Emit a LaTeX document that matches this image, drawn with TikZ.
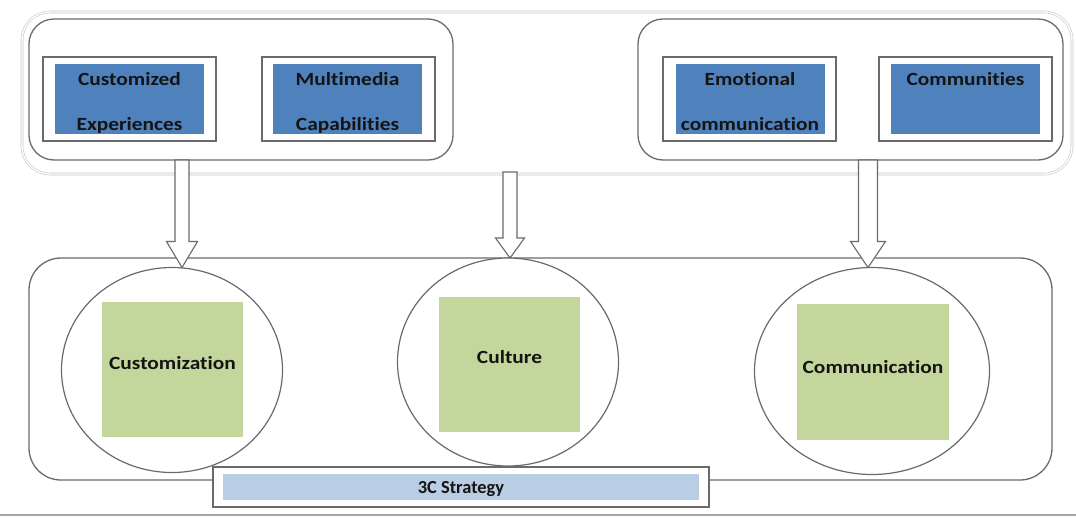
\documentclass[tikz,border=0pt]{standalone}
\usepackage{fontspec}
\setmainfont{Carlito}[RawFeature=-liga]
\newfontfamily\lblfont{Carlito}[FakeStretch=1.15, RawFeature=-liga]
\usetikzlibrary{shapes.geometric,calc}
\definecolor{boxblue}{HTML}{4F81BD}
\definecolor{lightblue}{HTML}{B9CDE5}
\definecolor{sqgreen}{HTML}{C3D69B}
\definecolor{linegray}{HTML}{6A6A6A}
\definecolor{txtcol}{HTML}{141414}
\newcommand\blockarr[5]{%
  \draw[blockarrow] let \p1=(#1), \p2=(#2) in
    (\x2-#3pt,\y1) -- (\x2-#3pt,\y2+#5pt) -- (\x2-#4pt,\y2+#5pt) -- (\x2,\y2)
    -- (\x2+#4pt,\y2+#5pt) -- (\x2+#3pt,\y2+#5pt) -- (\x2+#3pt,\y1) -- cycle;}
\begin{document}
\begin{tikzpicture}[x=1pt,y=-1pt,
  outerbox/.style={draw=gray!45, double=white, double distance=1.4pt, line width=0.6pt,
    rounded corners=28pt, inner sep=0pt, outer sep=0pt},
  groupbox/.style={draw=linegray, line width=1.3pt, fill=white, rounded corners=25pt,
    inner sep=0pt, outer sep=0pt},
  framebox/.style={draw=linegray, line width=1.2pt, fill=white, inner sep=0pt, outer sep=0pt,
    minimum width=173pt, minimum height=84pt},
  bluebox/.style={fill=boxblue, inner sep=0pt, outer sep=0pt, minimum width=149pt, minimum height=70pt},
  toptext/.style={font=\lblfont\bfseries\fontsize{18.6pt}{22pt}\selectfont, text=txtcol,
    anchor=base, inner sep=0pt},
  bottomrect/.style={draw=linegray, line width=1.3pt, fill=white, rounded corners=32pt,
    inner sep=0pt, outer sep=0pt},
  circ/.style={ellipse, draw=linegray, line width=1.2pt, fill=white, inner sep=0pt, outer sep=0pt},
  greensq/.style={fill=sqgreen, inner sep=0pt, outer sep=0pt},
  blockarrow/.style={draw=linegray, line width=1.1pt, fill=white, line join=miter}
]
\useasboundingbox (0,0) rectangle (1076,517);
\fill[white] (0,0) rectangle (1076,517);

% top background and group boxes
\node[outerbox, minimum width=1050pt, minimum height=162pt] (outer) at (547,93) {};
\node[groupbox, minimum width=424pt, minimum height=141pt] (lbox) at (241,89.5) {};
\node[groupbox, minimum width=425pt, minimum height=141pt] (rbox) at (850.5,89.5) {};

% item frames
\node[framebox] (ceF) at (129.5,99) {};
\node[bluebox] (ce) at (129.5,99) {};
\node[toptext] (ce1) at (129.5,85) {Customized};
\node[toptext] (ce2) at (129.5,130) {Experiences};

\node[framebox] (mcF) at (348.5,99) {};
\node[bluebox] (mc) at (347.5,99) {};
\node[toptext] (mc1) at (347.5,85) {Multimedia};
\node[toptext] (mc2) at (347.5,130) {Capabilities};

\node[framebox] (ecF) at (749.5,99) {};
\node[bluebox] (ec) at (750,99) {};
\node[toptext] (ec1) at (750,85) {Emotional};
\node[toptext] (ec2) at (750,130) {communication};

\node[framebox] (coF) at (965.5,99) {};
\node[bluebox] (co) at (965.5,99) {};
\node[toptext] (co1) at (965.5,85) {Communities};

% bottom group
\node[bottomrect, minimum width=1023pt, minimum height=222pt] (brect) at (540.5,369) {};

\node[circ, minimum width=221pt, minimum height=205pt] (ellL) at (172,370) {};
\node[circ, minimum width=221pt, minimum height=208pt] (ellM) at (508,362) {};
\node[circ, minimum width=235pt, minimum height=207pt] (ellR) at (872,371) {};

\node[greensq, minimum width=141pt, minimum height=135pt] (sqL) at (172.5,369.5) {};
\node[greensq, minimum width=141pt, minimum height=135pt] (sqM) at (509.5,364.5) {};
\node[greensq, minimum width=152pt, minimum height=136pt] (sqR) at (873,372) {};

\node[toptext] (tL) at (172.5,369) {Customization};
\node[toptext] (tM) at (509.5,363) {Culture};
\node[toptext] (tR) at (873,373) {Communication};

% 3C strategy bar
\node[draw=linegray, line width=1.2pt, fill=white, inner sep=0pt, outer sep=0pt,
  minimum width=496pt, minimum height=40pt] (sF) at (461,487) {};
\node[fill=lightblue, inner sep=0pt, outer sep=0pt, minimum width=476pt, minimum height=26pt]
  (strat) at (461,487) {};
\node[font=\bfseries\fontsize{18.4pt}{22pt}\selectfont, text=txtcol, anchor=base, inner sep=0pt]
  (stratT) at (461,493) {3C Strategy};

% block arrows
\coordinate (a1s) at (182,160);
\coordinate (a2s) at (510,172);
\coordinate (a3s) at (868,160);
\blockarr{a1s}{a1s |- ellL.north}{7}{15.5}{26}
\blockarr{a2s}{a2s |- ellM.north}{7}{14.5}{20}
\blockarr{a3s}{a3s |- ellR.north}{9.5}{17.5}{26}

% bottom rule
\draw[gray!70, line width=2.5pt] (0,515) -- (1076,515);
\end{tikzpicture}
\end{document}
